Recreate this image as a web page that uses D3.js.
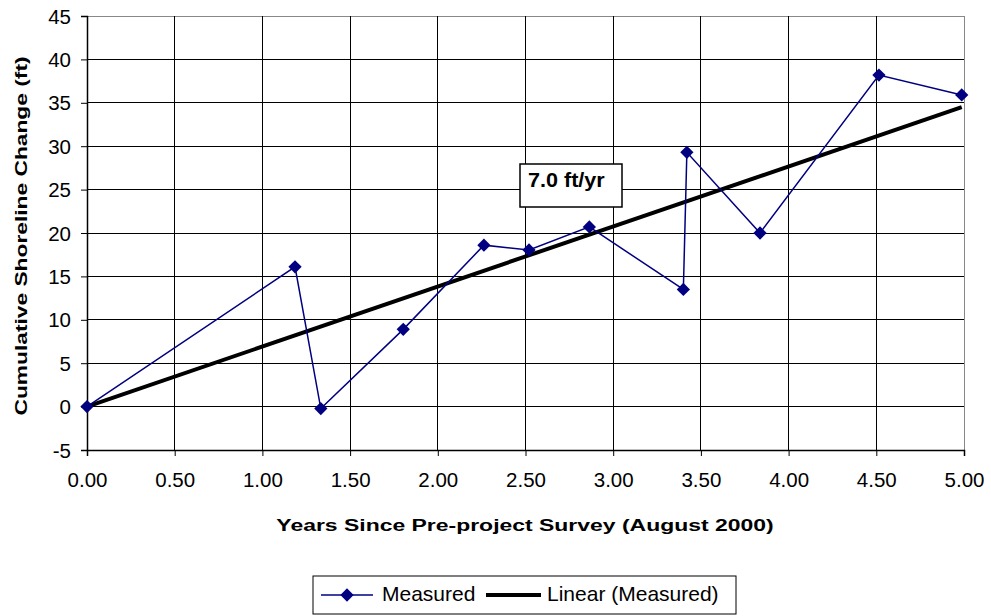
<!DOCTYPE html>
<html><head><meta charset="utf-8">
<script src="https://cdn.jsdelivr.net/npm/d3@7"></script>
<style>body{margin:0;background:#fff}svg{display:block;font-family:"Liberation Sans",Arial,sans-serif}</style>
</head><body><svg id="c" width="991" height="616"></svg>
<script>
const years = [0, 1.186, 1.333, 1.803, 2.263, 2.52, 2.864, 3.40, 3.42, 3.837, 4.515, 4.987];
const change = [0, 16.1, -0.23, 8.9, 18.6, 18.05, 20.7, 13.5, 29.3, 20.0, 38.2, 35.9];
const trendX = [0, 4.987];
const trendY = [0, 34.5];
const xTicks = [0, 0.5, 1, 1.5, 2, 2.5, 3, 3.5, 4, 4.5, 5];
const yTicks = [-5, 0, 5, 10, 15, 20, 25, 30, 35, 40, 45];
const rateLabel = "7.0 ft/yr";
const seriesNames = ["Measured", "Linear (Measured)"];

const svg = d3.select("#c");
const L = 87, R = 964, T = 16, B = 450;
const x = d3.scaleLinear().domain([0, 5]).range([L, R]);
const y = d3.scaleLinear().domain([-5, 45]).range([B, T]);

// grid
svg.append("g").selectAll("line").data(yTicks).join("line")
  .attr("x1", L).attr("x2", R).attr("y1", d => y(d)).attr("y2", d => y(d))
  .attr("stroke", d => d === 45 ? "#888" : "#000").attr("stroke-width", 1).attr("shape-rendering", "crispEdges");
svg.append("g").selectAll("line").data(xTicks).join("line")
  .attr("y1", T).attr("y2", B).attr("x1", d => x(d)).attr("x2", d => x(d))
  .attr("stroke", d => d === 5 ? "#888" : "#000").attr("stroke-width", 1).attr("shape-rendering", "crispEdges");

// axes
const fmt = d3.format(".2f");
const xa = svg.append("g").attr("transform", `translate(0,${B})`)
  .call(d3.axisBottom(x).tickValues(xTicks).tickFormat(fmt).tickSize(6).tickPadding(16));
const ya = svg.append("g").attr("transform", `translate(${L},0)`)
  .call(d3.axisLeft(y).tickValues(yTicks).tickFormat(d => String(d)).tickSize(6).tickPadding(10));
[xa, ya].forEach(a => {
  a.select(".domain").attr("stroke", "#000").attr("stroke-width", 1.5);
  a.selectAll(".tick line").attr("stroke", "#000");
  a.selectAll("text").attr("font-size", 20.5).attr("fill", "#000").attr("font-family", "Liberation Sans, Arial, sans-serif");
});
ya.selectAll("text").attr("dy", "0.35em");

// trend line
svg.append("line")
  .attr("x1", x(trendX[0])).attr("y1", y(trendY[0]))
  .attr("x2", x(trendX[1])).attr("y2", y(trendY[1]))
  .attr("stroke", "#000").attr("stroke-width", 4);

// measured
const pts = years.map((d, i) => [d, change[i]]);
svg.append("path").datum(pts)
  .attr("d", d3.line().x(d => x(d[0])).y(d => y(d[1])))
  .attr("fill", "none").attr("stroke", "#000080").attr("stroke-width", 1.5);
const diamond = d3.symbol().type(d3.symbolSquare).size(88);
svg.append("g").selectAll("path").data(pts).join("path")
  .attr("d", diamond)
  .attr("transform", d => `translate(${x(d[0])},${y(d[1])}) rotate(45)`)
  .attr("fill", "#000080");

// label box
const lb = svg.append("g");
lb.append("rect").attr("x", 520).attr("y", 164).attr("width", 102).attr("height", 43)
  .attr("fill", "#fff").attr("stroke", "#000").attr("stroke-width", 1.5);
lb.append("text").attr("transform", "translate(528,187) scale(1.08,1)").attr("font-weight", "bold").attr("font-size", 20).text(rateLabel);

// axis titles
svg.append("text").attr("transform", "translate(525,531) scale(1.35,1)").attr("text-anchor", "middle")
  .attr("font-weight", "bold").attr("font-size", 17).text("Years Since Pre-project Survey (August 2000)");
svg.append("text").attr("transform", "translate(27,236) rotate(-90) scale(1.34,1)").attr("text-anchor", "middle")
  .attr("font-weight", "bold").attr("font-size", 17).text("Cumulative Shoreline Change (ft)");

// legend
const lg = svg.append("g");
lg.append("rect").attr("x", 313).attr("y", 576).attr("width", 423).attr("height", 38)
  .attr("fill", "#fff").attr("stroke", "#000").attr("stroke-width", 1);
lg.append("line").attr("x1", 321).attr("x2", 373).attr("y1", 595).attr("y2", 595).attr("stroke", "#000080").attr("stroke-width", 1.5);
lg.append("path").attr("d", diamond).attr("transform", "translate(347,595) rotate(45)").attr("fill", "#000080");
lg.append("text").attr("x", 382).attr("y", 601).attr("font-size", 21).text(seriesNames[0]);
lg.append("line").attr("x1", 486).attr("x2", 541).attr("y1", 595).attr("y2", 595).attr("stroke", "#000").attr("stroke-width", 4);
lg.append("text").attr("x", 547).attr("y", 601).attr("font-size", 21).text(seriesNames[1]);
</script></body></html>
